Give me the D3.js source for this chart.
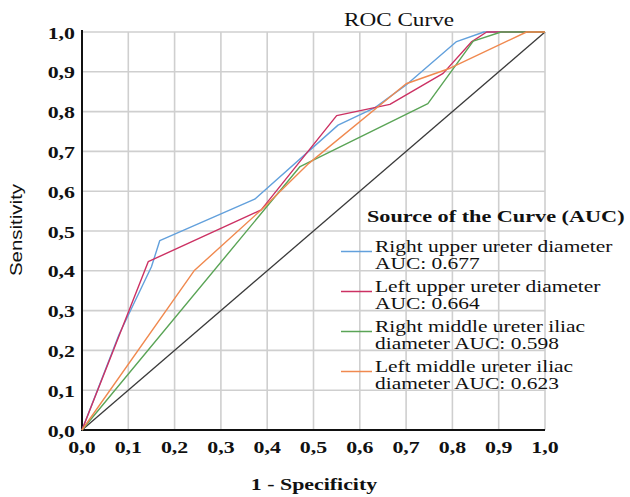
<!DOCTYPE html>
<html>
<head>
<meta charset="utf-8">
<script src="https://cdn.jsdelivr.net/npm/d3@7"></script>
<style>
  body { margin: 0; background: #fff; }
  svg { display: block; }
</style>
</head>
<body>
<svg id="chart" width="630" height="497"></svg>
<script>
// values
const ticks = [0, 0.1, 0.2, 0.3, 0.4, 0.5, 0.6, 0.7, 0.8, 0.9, 1.0]
const tickLabels = ['0,0', '0,1', '0,2', '0,3', '0,4', '0,5', '0,6', '0,7', '0,8', '0,9', '1,0']

const seriesNames = [
  ['Right upper ureter diameter', 'AUC: 0.677'],
  ['Left upper ureter diameter', 'AUC: 0.664'],
  ['Right middle ureter iliac', 'diameter AUC: 0.598'],
  ['Left middle ureter iliac', 'diameter AUC: 0.623']
]
const seriesColors = ['#62a0dc', '#cc3163', '#5aa456', '#f0894f']

const rightUpperX = [0, 0.08, 0.15, 0.168, 0.373, 0.553, 0.633, 0.70, 0.809, 0.868, 1.0]
const rightUpperY = [0, 0.24, 0.41, 0.476, 0.58, 0.766, 0.81, 0.867, 0.976, 1.0, 1.0]

const leftUpperX = [0, 0.143, 0.387, 0.55, 0.665, 0.78, 0.842, 0.874, 1.0]
const leftUpperY = [0, 0.423, 0.553, 0.79, 0.818, 0.896, 0.976, 1.0, 1.0]

const rightMiddleX = [0, 0.471, 0.747, 0.845, 0.905, 1.0]
const rightMiddleY = [0, 0.662, 0.82, 0.977, 1.0, 1.0]

const leftMiddleX = [0, 0.242, 0.387, 0.49, 0.70, 0.795, 0.96, 1.0]
const leftMiddleY = [0, 0.40, 0.553, 0.67, 0.87, 0.909, 1.0, 1.0]

const refX = [0, 1]
const refY = [0, 1]

const seriesX = [rightUpperX, leftUpperX, rightMiddleX, leftMiddleX]
const seriesY = [rightUpperY, leftUpperY, rightMiddleY, leftMiddleY]

const svg = d3.select('#chart')
const serif = '"Liberation Serif", "Times New Roman", serif'

const x = d3.scaleLinear().domain([0, 1]).range([82, 545])
const y = d3.scaleLinear().domain([0, 1]).range([430, 32])

// text is drawn wide in the picture, so stretch it along its run
function label(parent, px, py, str, o) {
  const g = parent.append('g')
    .attr('transform', `translate(${px},${py}) rotate(${o.rotate || 0}) scale(${o.sx || 1.25},1)`)
  g.append('text')
    .attr('font-family', o.family || serif)
    .attr('font-size', o.size || 17.5)
    .attr('font-weight', o.weight || 'normal')
    .attr('text-anchor', o.anchor || 'start')
    .attr('fill', '#111')
    .text(str)
  return g
}

// grid
const grid = svg.append('g').attr('stroke', '#cfcfcf').attr('stroke-width', 1.6)
ticks.slice(1).forEach(t => {
  grid.append('line').attr('x1', x(t)).attr('x2', x(t)).attr('y1', y(0)).attr('y2', y(1))
  grid.append('line').attr('x1', x(0)).attr('x2', x(1)).attr('y1', y(t)).attr('y2', y(t))
})

// axes
svg.append('line').attr('x1', x(0)).attr('x2', x(0)).attr('y1', y(0) + 1).attr('y2', y(1) - 2)
  .attr('stroke', '#111').attr('stroke-width', 2)
svg.append('line').attr('x1', x(0) - 1).attr('x2', x(1)).attr('y1', y(0)).attr('y2', y(0))
  .attr('stroke', '#111').attr('stroke-width', 2)

ticks.forEach((t, i) => {
  label(svg, 75, y(t) + 6.5, tickLabels[i], {anchor: 'end', weight: 'bold', sx: 1.25})
  label(svg, x(t), 453, tickLabels[i], {anchor: 'middle', weight: 'bold', sx: 1.25})
})

// curves
const line = d3.line().x(d => x(d[0])).y(d => y(d[1]))

svg.append('path')
  .datum(d3.zip(refX, refY))
  .attr('d', line)
  .attr('fill', 'none')
  .attr('stroke', '#3a3a3a')
  .attr('stroke-width', 1.3)

seriesX.forEach((xs, i) => {
  svg.append('path')
    .datum(d3.zip(xs, seriesY[i]))
    .attr('d', line)
    .attr('fill', 'none')
    .attr('stroke', seriesColors[i])
    .attr('stroke-width', 1.4)
    .attr('stroke-linejoin', 'round')
})

// titles
label(svg, 399, 26, 'ROC Curve', {anchor: 'middle', size: 19, sx: 1.22})
label(svg, 314, 490, '1 - Specificity', {anchor: 'middle', weight: 'bold', size: 17.5, sx: 1.25})
label(svg, 22, 230, 'Sensitivity', {anchor: 'middle', rotate: -90, size: 16,
  family: '"Liberation Sans", Arial, sans-serif', sx: 1.28})

// legend
const legend = svg.append('g')
label(legend, 367, 222, 'Source of the Curve (AUC)', {weight: 'bold', size: 17.5, sx: 1.27})
seriesNames.forEach((lines, i) => {
  const by = 251.5 + i * 40
  legend.append('line')
    .attr('x1', 341).attr('x2', 372).attr('y1', by).attr('y2', by)
    .attr('stroke', seriesColors[i]).attr('stroke-width', 1.5)
  lines.forEach((s, j) => {
    label(legend, 375, by + j * 17.8, s, {size: 16, sx: 1.34})
  })
})
</script>
</body>
</html>
